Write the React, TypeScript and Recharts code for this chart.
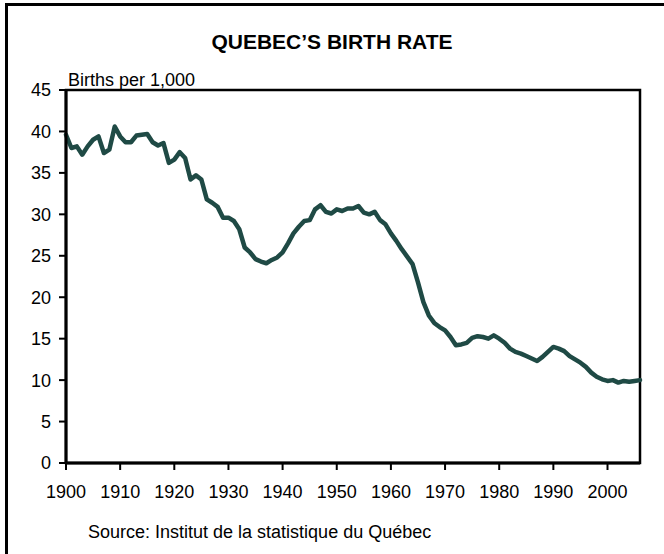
import { Line, LineChart, ReferenceArea, XAxis, YAxis } from "recharts";

// Quebec birth rate, births per 1,000
const years = [
  1900, 1901, 1902, 1903, 1904, 1905, 1906, 1907, 1908, 1909,
  1910, 1911, 1912, 1913, 1914, 1915, 1916, 1917, 1918, 1919,
  1920, 1921, 1922, 1923, 1924, 1925, 1926, 1927, 1928, 1929,
  1930, 1931, 1932, 1933, 1934, 1935, 1936, 1937, 1938, 1939,
  1940, 1941, 1942, 1943, 1944, 1945, 1946, 1947, 1948, 1949,
  1950, 1951, 1952, 1953, 1954, 1955, 1956, 1957, 1958, 1959,
  1960, 1961, 1962, 1963, 1964, 1965, 1966, 1967, 1968, 1969,
  1970, 1971, 1972, 1973, 1974, 1975, 1976, 1977, 1978, 1979,
  1980, 1981, 1982, 1983, 1984, 1985, 1986, 1987, 1988, 1989,
  1990, 1991, 1992, 1993, 1994, 1995, 1996, 1997, 1998, 1999,
  2000, 2001, 2002, 2003, 2004, 2005, 2006,
];

const birthRate = [
  39.6, 38.0, 38.2, 37.2, 38.2, 39.0, 39.4, 37.4, 37.8, 40.6,
  39.4, 38.7, 38.7, 39.5, 39.6, 39.7, 38.7, 38.3, 38.6, 36.2,
  36.6, 37.5, 36.8, 34.2, 34.7, 34.2, 31.8, 31.4, 30.9, 29.6,
  29.6, 29.2, 28.2, 26.0, 25.4, 24.6, 24.3, 24.1, 24.5, 24.8,
  25.4, 26.5, 27.7, 28.5, 29.2, 29.3, 30.6, 31.1, 30.3, 30.1,
  30.6, 30.4, 30.7, 30.7, 31.0, 30.2, 30.0, 30.3, 29.3, 28.8,
  27.7, 26.8, 25.8, 24.9, 24.0, 21.8, 19.4, 17.8, 16.9, 16.4,
  16.0, 15.2, 14.2, 14.3, 14.5, 15.1, 15.3, 15.2, 15.0, 15.4,
  15.0, 14.5, 13.8, 13.4, 13.2, 12.9, 12.6, 12.3, 12.8, 13.4,
  14.0, 13.8, 13.5, 12.9, 12.5, 12.1, 11.6, 10.9, 10.4, 10.1,
  9.9, 10.0, 9.7, 9.9, 9.8, 9.9, 10.0,
];

const xTicks = [1900, 1910, 1920, 1930, 1940, 1950, 1960, 1970, 1980, 1990, 2000];
const yTicks = [0, 5, 10, 15, 20, 25, 30, 35, 40, 45];

const data = years.map((year, i) => ({ year, rate: birthRate[i] }));

const font = "'Liberation Sans', Arial, sans-serif";

export default function App() {
  return (
    <div
      style={{
        position: "absolute",
        left: 0,
        top: 0,
        width: 664,
        height: 554,
        background: "#fff",
        fontFamily: font,
        color: "#000",
      }}
    >
      {/* frame: top and left edges only */}
      <div
        style={{
          position: "absolute",
          left: 5,
          top: 3,
          width: 659,
          height: 551,
          borderTop: "3px solid #000",
          borderLeft: "3px solid #000",
          boxSizing: "border-box",
        }}
      />
      <div
        style={{
          position: "absolute",
          top: 30,
          left: 0,
          width: 664,
          textAlign: "center",
          fontWeight: "bold",
          fontSize: 21,
        }}
      >
        QUEBEC’S BIRTH RATE
      </div>
      <div style={{ position: "absolute", top: 70, left: 68, fontSize: 18 }}>
        Births per 1,000
      </div>
      <div style={{ position: "absolute", top: 522, left: 88, fontSize: 18 }}>
        Source: Institut de la statistique du Québec
      </div>
      <div style={{ position: "absolute", left: 0, top: 0 }}>
        <LineChart
          width={664}
          height={554}
          data={data}
          margin={{ top: 90, right: 24, bottom: 0, left: 0 }}
        >
          <ReferenceArea
            x1={1900}
            x2={2006}
            y1={0}
            y2={45}
            fill="none"
            stroke="#000"
            strokeWidth={2.5}
            fillOpacity={0}
          />
          <XAxis
            dataKey="year"
            type="number"
            domain={[1900, 2006]}
            ticks={xTicks}
            height={91}
            axisLine={{ stroke: "#000", strokeWidth: 3 }}
            tickLine={{ stroke: "#000", strokeWidth: 2 }}
            tickSize={7}
            tickMargin={15}
            tick={{ fill: "#000", fontSize: 18, fontFamily: font }}
            interval={0}
          />
          <YAxis
            type="number"
            domain={[0, 45]}
            ticks={yTicks}
            width={66}
            axisLine={{ stroke: "#000", strokeWidth: 3 }}
            tickLine={{ stroke: "#000", strokeWidth: 2 }}
            tickSize={7}
            tickMargin={8}
            tick={{ fill: "#000", fontSize: 18, fontFamily: font }}
            interval={0}
          />
          <Line
            type="linear"
            dataKey="rate"
            stroke="#1f4a45"
            strokeWidth={4.5}
            strokeLinejoin="round"
            strokeLinecap="round"
            dot={false}
            isAnimationActive={false}
          />
        </LineChart>
      </div>
    </div>
  );
}
